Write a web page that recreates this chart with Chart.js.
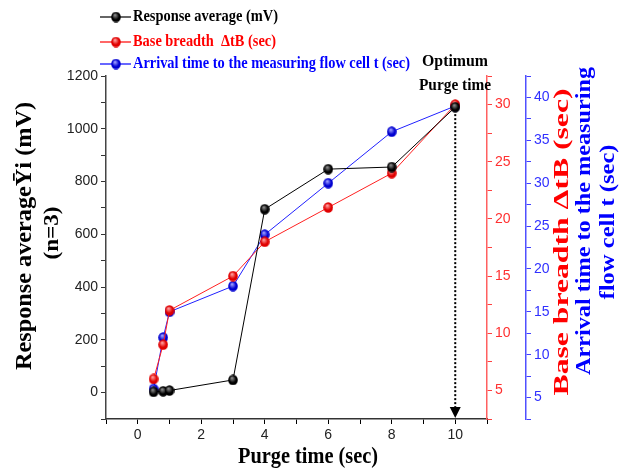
<!DOCTYPE html>
<html>
<head>
<meta charset="utf-8">
<script src="https://cdn.jsdelivr.net/npm/chart.js@4/dist/chart.umd.min.js"></script>
<style>
  html, body { margin: 0; padding: 0; background: #fff; }
  #wrap { width: 628px; height: 473px; }
</style>
</head>
<body>
<div id="wrap"><canvas id="chart" width="628" height="473"></canvas></div>
<script>
// purge time (sec)
const purgeTime = [0.5, 0.8, 1, 3, 4, 6, 8, 10];
// response average (mV), left axis
const responseAvg = [3, 5, 8, 48, 695, 847, 855, 1082];
// base breadth dtB (sec), red axis
const baseBreadth = [6, 9, 12, 15, 18, 21, 24, 30];
// arrival time t (sec), blue axis
const arrivalTime = [6, 12, 15, 18, 24, 30, 36, 39];

const xTicksShown = [0, 2, 4, 6, 8, 10];

const legendLabels = [
  'Response average (mV)',
  'Base breadth  \u0394tB (sec)',
  'Arrival time to the measuring flow cell t (sec)'
];
const seriesColors = ['#000000', '#ff0000', '#0000ff'];
const ballColors = [['#888', '#000'], ['#ff9a9a', '#e00000'], ['#9a9aff', '#0000d0']];

function toPoints(ys) {
  return purgeTime.map((x, i) => ({ x: x, y: ys[i] }));
}

function makeBall(c) {
  const cv = document.createElement('canvas');
  cv.width = 10; cv.height = 11;
  const g = cv.getContext('2d');
  const grad = g.createRadialGradient(4, 3.5, 0.5, 5, 5.5, 5.5);
  grad.addColorStop(0, c[0]);
  grad.addColorStop(0.6, c[1]);
  grad.addColorStop(1, c[1]);
  g.fillStyle = grad;
  g.beginPath();
  g.ellipse(5, 5.5, 4.8, 5.3, 0, 0, Math.PI * 2);
  g.fill();
  return cv;
}
const balls = ballColors.map(makeBall);

// draw text squeezed/stretched to a target length
function fitText(ctx, text, x, y, font, color, len, rot) {
  ctx.save();
  ctx.font = font;
  ctx.fillStyle = color;
  ctx.textAlign = 'center';
  ctx.textBaseline = 'middle';
  const w = ctx.measureText(text).width;
  ctx.translate(x, y);
  if (rot) ctx.rotate(rot);
  ctx.scale(len / w, 1);
  ctx.fillText(text, 0, 0);
  ctx.restore();
}

const extras = {
  id: 'extras',
  afterDraw(chart) {
    const ctx = chart.ctx;
    const serif = '"Liberation Serif", "Times New Roman", serif';

    // legend
    const ly = [17, 42, 64];
    const lw = [145, 143, 277];
    for (let i = 0; i < 3; i++) {
      ctx.save();
      ctx.strokeStyle = seriesColors[i];
      ctx.lineWidth = 1.2;
      ctx.beginPath();
      ctx.moveTo(100, ly[i]);
      ctx.lineTo(131, ly[i]);
      ctx.stroke();
      ctx.drawImage(balls[i], 111, ly[i] - 5.5);
      ctx.restore();
      ctx.save();
      ctx.font = 'bold 17px ' + serif;
      ctx.fillStyle = seriesColors[i];
      ctx.textBaseline = 'middle';
      const w = ctx.measureText(legendLabels[i]).width;
      ctx.translate(133, ly[i]);
      ctx.scale(lw[i] / w, 1);
      ctx.fillText(legendLabels[i], 0, 0);
      ctx.restore();
    }

    // axis titles
    fitText(ctx, 'Purge time (sec)', 308, 457, 'bold 24px ' + serif, '#000', 140, 0);
    fitText(ctx, 'Response average\u0232i (mV)', 25, 236, 'bold 24px ' + serif, '#000', 268, -Math.PI / 2);
    fitText(ctx, '(n=3)', 52, 233, 'bold 22px ' + serif, '#000', 53, -Math.PI / 2);
    fitText(ctx, 'Base breadth \u0394tB (sec)', 562, 242, 'bold 22px ' + serif, '#ff0000', 307, -Math.PI / 2);
    fitText(ctx, 'Arrival time to the measuring', 584, 221, 'bold 22px ' + serif, '#0000ff', 308, -Math.PI / 2);
    fitText(ctx, 'flow cell t (sec)', 608, 222, 'bold 22px ' + serif, '#0000ff', 155, -Math.PI / 2);

    // optimum purge time annotation
    fitText(ctx, 'Optimum', 455, 62, 'bold 16px ' + serif, '#000', 66, 0);
    fitText(ctx, 'Purge time', 455, 86, 'bold 16px ' + serif, '#000', 72, 0);

    const xs = chart.scales.x, ys = chart.scales.y;
    const ax = xs.getPixelForValue(purgeTime[purgeTime.length - 1]);
    const top = ys.getPixelForValue(responseAvg[responseAvg.length - 1]) + 7;
    const bottom = chart.chartArea.bottom;
    ctx.save();
    ctx.strokeStyle = '#000';
    ctx.lineWidth = 2;
    ctx.setLineDash([2, 2]);
    ctx.beginPath();
    ctx.moveTo(ax, top);
    ctx.lineTo(ax, bottom - 11);
    ctx.stroke();
    ctx.setLineDash([]);
    ctx.fillStyle = '#000';
    ctx.beginPath();
    ctx.moveTo(ax - 5.5, bottom - 12);
    ctx.lineTo(ax + 5.5, bottom - 12);
    ctx.lineTo(ax, bottom - 1);
    ctx.closePath();
    ctx.fill();
    ctx.restore();
  }
};

function axisOpts(o) {
  return {
    type: 'linear',
    position: o.position,
    min: o.min,
    max: o.max,
    ticks: {
      stepSize: o.step,
      autoSkip: false,
      includeBounds: false,
      color: o.labelColor,
      font: { family: '"Liberation Sans", Arial, sans-serif', size: 14 },
      padding: 3,
      callback: o.cb
    },
    grid: {
      drawOnChartArea: false,
      drawTicks: true,
      tickLength: 5,
      color: o.tickColor,
      lineWidth: 1
    },
    border: { display: true, color: o.axisColor, width: 1.5 },
    title: { display: false },
    afterFit: o.fit
  };
}

new Chart(document.getElementById('chart'), {
  type: 'line',
  data: {
    datasets: [
      { label: legendLabels[0], data: toPoints(responseAvg), yAxisID: 'y',
        borderColor: '#000', pointStyle: balls[0] },
      { label: legendLabels[1], data: toPoints(baseBreadth), yAxisID: 'yRed',
        borderColor: '#ff2020', pointStyle: balls[1] },
      { label: legendLabels[2], data: toPoints(arrivalTime), yAxisID: 'yBlue',
        borderColor: '#2020ff', pointStyle: balls[2] }
    ]
  },
  options: {
    responsive: false,
    animation: false,
    events: [],
    layout: { padding: { left: 0, top: 76, right: 72, bottom: 0 } },
    elements: {
      line: { borderWidth: 1, tension: 0, fill: false },
      point: { radius: 5, hoverRadius: 5 }
    },
    plugins: { legend: { display: false }, tooltip: { enabled: false } },
    scales: {
      x: axisOpts({
        position: 'bottom', min: -1, max: 11, step: 1,
        labelColor: '#222', tickColor: '#000', axisColor: '#333',
        cb: v => (xTicksShown.includes(v) ? String(v) : ''),
        fit: s => { s.height = 54; }
      }),
      y: axisOpts({
        position: 'left', min: -100, max: 1200, step: 100,
        labelColor: '#222', tickColor: '#333', axisColor: '#444',
        cb: v => (v >= 0 && v % 200 === 0 ? String(v) : ''),
        fit: s => { s.width = 106; }
      }),
      yRed: axisOpts({
        position: 'right', min: 2.5, max: 32.5, step: 2.5,
        labelColor: '#ff3030', tickColor: '#ff4040', axisColor: '#ff6060',
        cb: v => (v % 5 === 0 ? String(v) : ''),
        fit: s => { s.width = 39; }
      }),
      yBlue: axisOpts({
        position: 'right', min: 2.5, max: 42.5, step: 2.5,
        labelColor: '#3030ff', tickColor: '#4040ff', axisColor: '#5050ff',
        cb: v => (v % 5 === 0 ? String(v) : ''),
        fit: s => { s.width = 30; }
      })
    }
  },
  plugins: [extras]
});
</script>
</body>
</html>
